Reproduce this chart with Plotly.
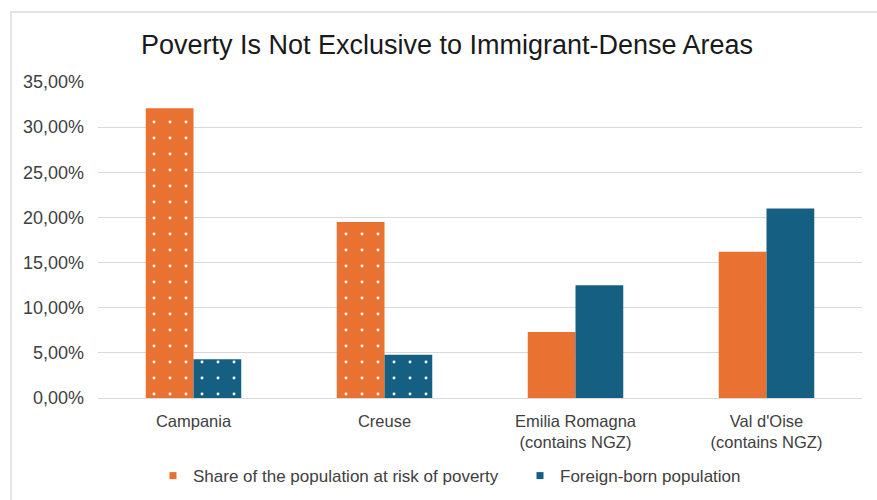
import plotly.graph_objects as go

categories = ["Campania", "Creuse", "Emilia Romagna<br>(contains NGZ)", "Val d'Oise<br>(contains NGZ)"]
poverty_share = [32.1, 19.5, 7.3, 16.2]
foreign_born = [4.3, 4.8, 12.5, 21.0]
dotted = [".", ".", "", ""]
tick_vals = [0, 5, 10, 15, 20, 25, 30, 35]

ORANGE = "#E97132"
BLUE = "#156082"
FONT = "Liberation Sans, Arial, sans-serif"
FS = 16.5

fig = go.Figure()
fig.add_trace(go.Bar(
    x=categories, y=[v / 100 for v in poverty_share],
    marker=dict(color=ORANGE, line=dict(width=0),
                pattern=dict(shape=dotted, fgcolor="white", bgcolor=ORANGE,
                             size=16, solidity=0.025, fillmode="replace")),
    showlegend=False, name="Share of the population at risk of poverty"))
fig.add_trace(go.Bar(
    x=categories, y=[v / 100 for v in foreign_born],
    marker=dict(color=BLUE, line=dict(width=0),
                pattern=dict(shape=dotted, fgcolor="white", bgcolor=BLUE,
                             size=16, solidity=0.025, fillmode="replace")),
    showlegend=False, name="Foreign-born population"))

# legend entries with small square markers
fig.add_trace(go.Scatter(x=[None], y=[None], mode="markers",
                         marker=dict(symbol="square", size=7, color=ORANGE),
                         name="Share of the population at risk of poverty"))
fig.add_trace(go.Scatter(x=[None], y=[None], mode="markers",
                         marker=dict(symbol="square", size=7, color=BLUE),
                         name="Foreign-born population"))

fig.update_layout(
    width=877, height=500,
    margin=dict(l=98, r=15, t=82, b=102, autoexpand=False),
    paper_bgcolor="white", plot_bgcolor="white",
    separators=", ",
    barmode="group", bargap=0.5, bargroupgap=0,
    font=dict(family=FONT, size=FS, color="#404040"),
    title=dict(text="Poverty Is Not Exclusive to Immigrant-Dense Areas",
               x=447 / 877, xref="container", xanchor="center",
               y=0.91, yref="container", yanchor="middle",
               font=dict(family=FONT, size=27, color="#1a1a1a")),
    legend=dict(orientation="h", x=(173 - 20 - 98) / 764, xanchor="left", xref="paper",
                y=-0.247, yanchor="middle", entrywidthmode="pixels", entrywidth=322,
                font=dict(family=FONT, size=17, color="#404040"),
                itemwidth=30, traceorder="normal"),
    shapes=[dict(type="rect", xref="paper", yref="paper",
                 x0=(11 - 98) / 764, x1=(900 - 98) / 764,
                 y0=(398 - 520) / 316, y1=(398 - 12) / 316,
                 line=dict(color="#e3e3e3", width=2), fillcolor="rgba(0,0,0,0)",
                 layer="below")],
)

fig.update_yaxes(range=[0, 0.35], tickvals=[v / 100 for v in tick_vals], tickformat=".2%",
                 showgrid=True, gridcolor="#d9d9d9", gridwidth=1,
                 zeroline=True, zerolinecolor="#d9d9d9", zerolinewidth=1,
                 showline=False, ticks="", ticklabelstandoff=13, automargin=False,
                 tickfont=dict(family=FONT, size=18, color="#404040"))
fig.update_xaxes(showline=False, ticks="", showgrid=False, ticklabelstandoff=11,
                 tickangle=0, automargin=False,
                 tickfont=dict(family=FONT, size=FS, color="#404040"))

fig.write_html("out.html")
